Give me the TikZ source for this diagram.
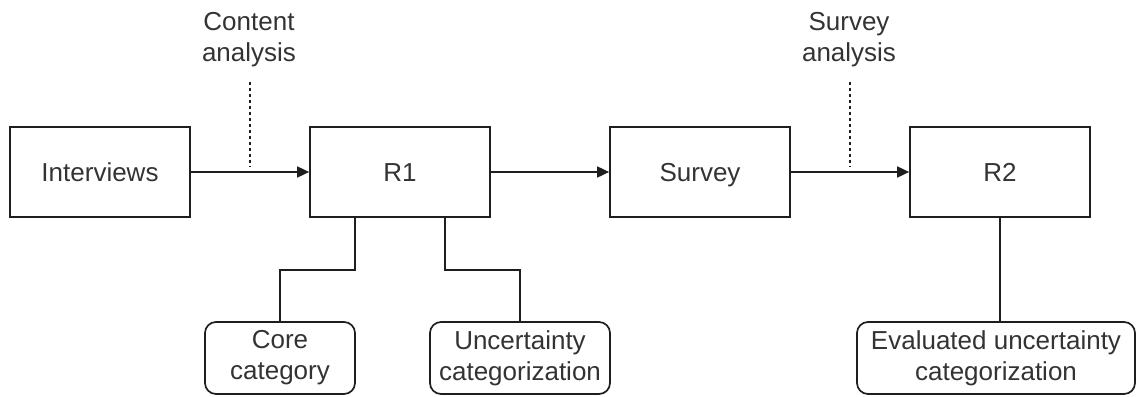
\documentclass[tikz,border=0pt]{standalone}
\usepackage{fontspec}
\setmainfont{Liberation Sans}
\usetikzlibrary{arrows.meta}
\definecolor{txt}{HTML}{333333}
\definecolor{ln}{HTML}{1E1E1E}
\tikzset{
  box/.style={draw=ln, line width=1.7pt, minimum width=180pt, minimum height=90pt, inner sep=0pt, text=txt, font=\fontsize{26}{31}\selectfont, text height=22pt, text depth=4pt},
  rbox/.style={draw=ln, line width=1.7pt, minimum width=180pt, inner sep=0pt, text=txt, font=\fontsize{26}{31}\selectfont, align=center, rounded corners=11pt, minimum height=72pt},
  lbl/.style={text=txt, font=\fontsize{26}{31}\selectfont, align=center, inner sep=0pt},
  arr/.style={draw=ln, line width=1.7pt, -{Triangle[length=12pt,width=11pt]}},
  conn/.style={draw=ln, line width=1.7pt},
  dsh/.style={draw=ln, line width=1.4pt, dash pattern=on 3pt off 3pt}
}
\begin{document}
\begin{tikzpicture}[x=1pt,y=-1pt]
\useasboundingbox (0,0) rectangle (1137,396);
\node[box] (int) at (100,172) {Interviews};
\node[box] (r1) at (400,172) {R1};
\node[box] (sur) at (700,172) {Survey};
\node[box] (r2) at (1000,172) {R2};
\node[rbox, minimum width=150pt] (core) at (280,358) {Core\\category};
\node[rbox] (unc) at (520,358) {Uncertainty\\categorization};
\node[rbox, minimum width=278pt] (eval) at (996,358) {Evaluated uncertainty\\categorization};
\node[lbl] (ca) at (249,40) {Content\\analysis};
\node[lbl] (sa) at (849,40) {Survey\\analysis};
\coordinate (ca1) at (250,82);
\coordinate (ca2) at (250,167);
\coordinate (sa1) at (850,82);
\coordinate (sa2) at (850,167);
\draw[arr] (int) -- (r1);
\draw[arr] (r1) -- (sur);
\draw[arr] (sur) -- (r2);
\draw[dsh] (ca1) -- (ca2);
\draw[dsh] (sa1) -- (sa2);
\draw[conn] ([xshift=-45pt]r1.south) -- ++(0,52) -| (core.north);
\draw[conn] ([xshift=45pt]r1.south) -- ++(0,52) -| (unc.north);
\draw[conn] (r2.south) -- ([xshift=4pt]eval.north);
\end{tikzpicture}
\end{document}
